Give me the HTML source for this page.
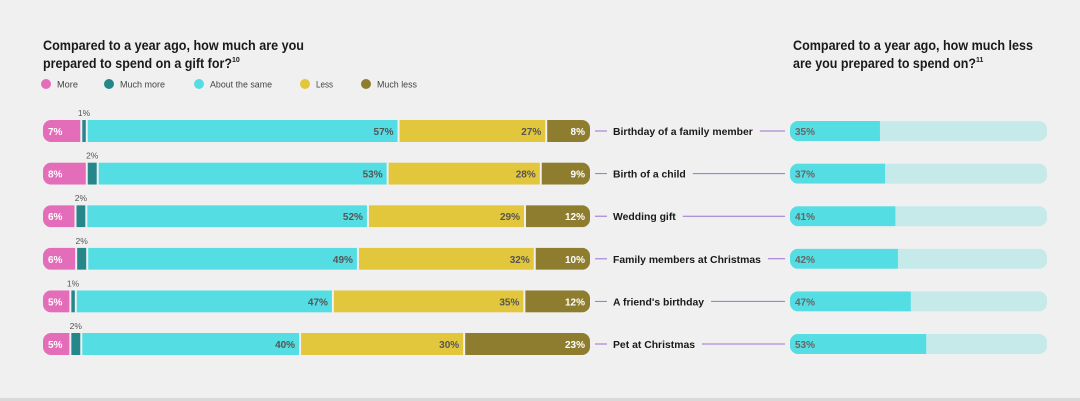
<!DOCTYPE html>
<html><head><meta charset="utf-8"><style>
body{margin:0;background:#f0f0f0;width:1080px;height:401px;overflow:hidden;font-family:"Liberation Sans",sans-serif;}
svg{display:block}
</style></head><body>
<svg id="c" width="1080" height="401">
<rect x="0" y="398" width="1080" height="3" fill="#d9d9d9"/>
<text x="43" y="50" font-size="14" font-weight="bold" fill="#1a1a1a" textLength="261" lengthAdjust="spacingAndGlyphs">Compared to a year ago, how much are you</text>
<text x="43" y="68" font-size="14" font-weight="bold" fill="#1a1a1a"><tspan textLength="189" lengthAdjust="spacingAndGlyphs">prepared to spend on a gift for?</tspan><tspan font-size="7" dy="-6">10</tspan></text>
<text x="793" y="50" font-size="14" font-weight="bold" fill="#1a1a1a" textLength="240" lengthAdjust="spacingAndGlyphs">Compared to a year ago, how much less</text>
<text x="793" y="68" font-size="14" font-weight="bold" fill="#1a1a1a"><tspan textLength="183" lengthAdjust="spacingAndGlyphs">are you prepared to spend on?</tspan><tspan font-size="7" dy="-6">11</tspan></text>
<g id="legend"></g><g id="rows"></g>
</svg>
<script>
const categories=["Birthday of a family member","Birth of a child","Wedding gift","Family members at Christmas","A friend's birthday","Pet at Christmas"];
const seriesNames=["More","Much more","About the same","Less","Much less"];
const more=[7,8,6,6,5,5];
const muchMore=[1,2,2,2,1,2];
const same=[57,53,52,49,47,40];
const less=[27,28,29,32,35,30];
const muchLess=[8,9,12,10,12,23];
const lessPrepared=[35,37,41,42,47,53];
const colors=["#e46db9","#26878a","#54dde2","#e2c63c","#8e7d2f"];
const textCols=["#fff","#555","#555","#555","#fff"];
const NS="http://www.w3.org/2000/svg";
function mk(t,a,p){const e=document.createElementNS(NS,t);for(const k in a)e.setAttribute(k,a[k]);p.appendChild(e);return e;}
const lg=document.getElementById('legend');
seriesNames.forEach((n,i)=>{
 const g=mk('g',{},lg);
 
 
 const cx=[46,109,199,305,366][i];
 mk('circle',{cx:cx,cy:84,r:5,fill:colors[i]},g);
 const t=mk('text',{x:cx+11,y:87.5,'font-size':9.5,fill:'#444',textLength:[21,45,62,17,40][i],lengthAdjust:'spacingAndGlyphs'},g);t.textContent=n;
});
const rows=document.getElementById('rows');
const X0=43,X1=590,H=22,rowY=i=>120+i*42.6;
const RX0=790,RX1=1047;
categories.forEach((c,i)=>{
 const vals=[more[i],muchMore[i],same[i],less[i],muchLess[i]];
 const tot=vals.reduce((a,b)=>a+b,0);
 const y=rowY(i);
 const g=mk('g',{},rows);
 
 
 const clip=mk('clipPath',{id:'cl'+i},g);
 mk('rect',{x:X0,y:y,width:X1-X0,height:H,rx:8},clip);
 const sg=mk('g',{'clip-path':'url(#cl'+i+')'},g);
 let x=X0;
 vals.forEach((v,j)=>{
  const w=v/tot*(X1-X0);
  const r=mk('rect',{x:x+(j?1:0),y:y,width:Math.max(w-(j?1:0)-(j<4?1:0),1),height:H,fill:colors[j]},sg);
  
  
  if(j===1){const t=mk('text',{x:x+w/2,y:y-4,'font-size':8.5,fill:'#555','text-anchor':'middle'},g);t.textContent=v+'%';}
  else if(j===0){const t=mk('text',{x:x+5,y:y+15,'font-size':10,'font-weight':'bold',fill:textCols[j]},g);t.textContent=v+'%';}
  else{const t=mk('text',{x:x+w-5,y:y+15,'font-size':10,'font-weight':'bold',fill:textCols[j],'text-anchor':'end'},g);t.textContent=v+'%';}
  x+=w;
 });
 const cy=y+H/2;
 mk('line',{x1:595,x2:607,y1:cy,y2:cy,stroke:'#9b6fd0','stroke-width':1},g);
 const lt=mk('text',{x:613,y:cy+4,'font-size':10.5,'font-weight':'bold',fill:'#1a1a1a'},g);
 lt.textContent=c;
 
 
 let tw=lt.getComputedTextLength();
 const tgt=tw*0.99;
 lt.setAttribute('textLength',tgt);
 lt.setAttribute('lengthAdjust','spacingAndGlyphs');
 mk('line',{x1:613+tgt+7,x2:785,y1:cy,y2:cy,stroke:'#9b6fd0','stroke-width':1},g);
 mk('rect',{x:RX0,y:y+1,width:RX1-RX0,height:20,rx:8,fill:'#c6eaea'},g);
 const clip2=mk('clipPath',{id:'cr'+i},g);
 mk('rect',{x:RX0,y:y+1,width:RX1-RX0,height:20,rx:8},clip2);
 const fb=mk('rect',{x:RX0,y:y+1,width:lessPrepared[i]/100*(RX1-RX0),height:20,fill:'#54dde2','clip-path':'url(#cr'+i+')'},g);
 
 
 const pt=mk('text',{x:RX0+5,y:cy+4,'font-size':10,'font-weight':'bold',fill:'#666'},g);pt.textContent=lessPrepared[i]+'%';
});
</script>
</body></html>
